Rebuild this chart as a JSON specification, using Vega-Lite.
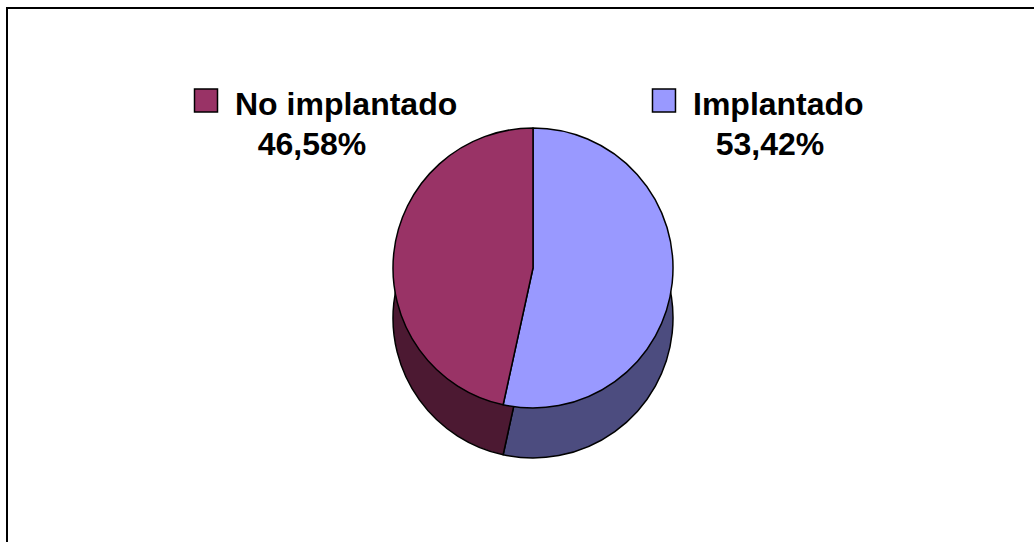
{
  "$schema": "https://vega.github.io/schema/vega-lite/v6.json",
  "width": 1034,
  "height": 542,
  "autosize": {"type": "fit", "contains": "padding"},
  "padding": {"left": 7, "top": 8, "right": -3, "bottom": -3},
  "background": "white",
  "config": {
    "view": {"stroke": "#000000", "strokeWidth": 2},
    "locale": {"number": {"decimal": ",", "thousands": ".", "grouping": [3], "currency": ["", " €"]}},
    "font": "Liberation Sans"
  },
  "data": {
    "values": [
      {"categoria": "Implantado", "proporcion": 0.5342},
      {"categoria": "No implantado", "proporcion": 0.4658}
    ]
  },
  "layer": [
    {
      "mark": {"type": "arc", "radius": 140, "xOffset": 11, "yOffset": 41.5, "stroke": "#000000", "strokeWidth": 1.5, "strokeJoin": "round"},
      "encoding": {
        "theta": {"field": "proporcion", "type": "quantitative", "stack": true},
        "color": {"field": "categoria", "type": "nominal", "scale": {"domain": ["Implantado", "No implantado"], "range": ["#4C4C7F", "#4C1932"]}, "legend": null}
      }
    },
    {
      "mark": {"type": "arc", "radius": 140, "xOffset": 11, "yOffset": -8.5, "stroke": "#000000", "strokeWidth": 1.5, "strokeJoin": "round"},
      "encoding": {
        "theta": {"field": "proporcion", "type": "quantitative", "stack": true},
        "color": {"field": "categoria", "type": "nominal", "scale": {"domain": ["Implantado", "No implantado"], "range": ["#9999FF", "#993366"]}, "legend": null}
      }
    },
    {
      "mark": {"type": "point", "shape": "square", "filled": true, "opacity": 1, "size": 529, "stroke": "#000000", "strokeWidth": 1.5, "xOffset": -29, "yOffset": -176},
      "encoding": {
        "x": {"field": "categoria", "type": "nominal", "sort": ["No implantado", "Implantado"], "scale": {"type": "point", "padding": 0.6245, "align": 0.3986}, "axis": null},
        "color": {"field": "categoria", "type": "nominal", "scale": {"domain": ["Implantado", "No implantado"], "range": ["#9999FF", "#993366"]}, "legend": null}
      }
    },
    {
      "mark": {"type": "text", "align": "left", "baseline": "alphabetic", "fontSize": 32, "fontWeight": "bold", "font": "Liberation Sans", "color": "#000000", "dy": -161.5},
      "encoding": {
        "x": {"field": "categoria", "type": "nominal", "sort": ["No implantado", "Implantado"], "scale": {"type": "point", "padding": 0.6245, "align": 0.3986}, "axis": null},
        "text": {"field": "categoria", "type": "nominal"}
      }
    },
    {
      "mark": {"type": "text", "align": "center", "baseline": "alphabetic", "fontSize": 32, "fontWeight": "bold", "font": "Liberation Sans", "color": "#000000", "dx": 77, "dy": -121.5},
      "encoding": {
        "x": {"field": "categoria", "type": "nominal", "sort": ["No implantado", "Implantado"], "scale": {"type": "point", "padding": 0.6245, "align": 0.3986}, "axis": null},
        "text": {"field": "proporcion", "type": "quantitative", "format": ".2%"}
      }
    }
  ],
  "resolve": {"scale": {"color": "independent"}}
}
